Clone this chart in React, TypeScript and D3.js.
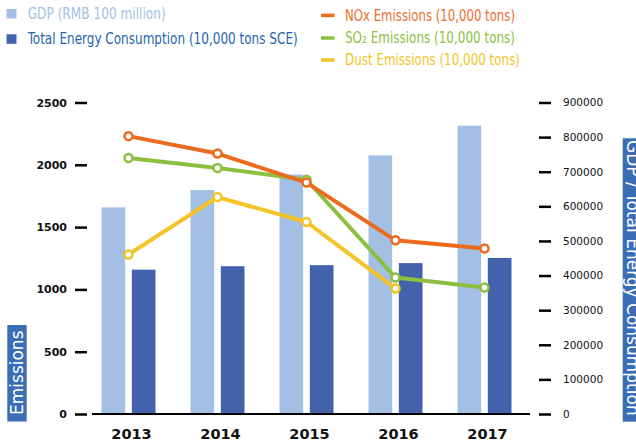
import React, { useEffect, useRef } from 'react';
import * as d3 from 'd3';

const years = ['2013', '2014', '2015', '2016', '2017'];
const gdp = [597000, 647000, 692000, 747000, 833000];
const energy = [417000, 427000, 430000, 436000, 451000];
const nox = [2230, 2090, 1857, 1394, 1328];
const so2 = [2054, 1974, 1880, 1095, 1015];
const dust = [1280, 1741, 1541, 1007, null];

const leftTicks = [0, 500, 1000, 1500, 2000, 2500];
const rightTicks = [0, 100000, 200000, 300000, 400000, 500000, 600000, 700000, 800000, 900000];

const W = 636;
const H = 445;
const font = '"DejaVu Sans", Verdana, sans-serif';
const legendFont = '"DejaVu Sans Condensed", "DejaVu Sans", sans-serif';

function App() {
  const ref = useRef<SVGSVGElement>(null);

  useEffect(() => {
    const svg = d3.select(ref.current);
    svg.selectAll('*').remove();

    const x = d3.scaleBand().domain(years).range([84, 529]).padding(0);
    const inner = d3.scaleBand().domain(['gdp', 'energy']).range([-27, 27]).paddingInner(0.22);
    const yLeft = d3.scaleLinear().domain([0, 2500]).range([414, 102.5]);
    const yRight = d3.scaleLinear().domain([0, 900000]).range([414, 102.5]);
    const cx = (y: string) => (x(y) as number) + x.bandwidth() / 2;

    // bars
    const bars = [
      { key: 'gdp', values: gdp, color: '#a3bfe3' },
      { key: 'energy', values: energy, color: '#4263ab' }
    ];
    bars.forEach(b => {
      svg
        .append('g')
        .selectAll('rect')
        .data(b.values)
        .enter()
        .append('rect')
        .attr('x', (_, i) => cx(years[i]) + (inner(b.key) as number))
        .attr('width', inner.bandwidth())
        .attr('y', d => yRight(d))
        .attr('height', d => yRight(0) - yRight(d))
        .style('fill', b.color);
    });

    // x axis line
    svg
      .append('line')
      .attr('x1', 92)
      .attr('x2', 530)
      .attr('y1', yLeft(0))
      .attr('y2', yLeft(0))
      .style('stroke', '#000')
      .style('stroke-width', 2);

    // year labels
    svg
      .append('g')
      .selectAll('text')
      .data(years)
      .enter()
      .append('text')
      .attr('x', d => cx(d) + 3)
      .attr('y', 439)
      .attr('text-anchor', 'middle')
      .style('font-family', font)
      .style('font-weight', 'bold')
      .style('font-size', '14.5px')
      .style('fill', '#111')
      .text(d => d);

    // left axis
    const la = svg
      .append('g')
      .attr('transform', 'translate(87,0)')
      .call(d3.axisLeft(yLeft).tickValues(leftTicks).tickSize(12).tickPadding(8).tickFormat(d3.format('d')));
    la.select('.domain').remove();
    la.selectAll('line').style('stroke', '#000').style('stroke-width', 2.5);
    la.selectAll('text')
      .style('font-family', font)
      .style('font-weight', 'bold')
      .style('font-size', '11px')
      .style('fill', '#111');

    // right axis
    const ra = svg
      .append('g')
      .attr('transform', 'translate(539,0)')
      .call(d3.axisRight(yRight).tickValues(rightTicks).tickSize(12).tickPadding(12).tickFormat(d3.format('d')));
    ra.select('.domain').remove();
    ra.selectAll('line').style('stroke', '#000').style('stroke-width', 2.5);
    ra.selectAll('text')
      .style('font-family', font)
      .style('font-size', '10.5px')
      .style('fill', '#111');

    // emission lines
    const series = [
      { values: so2, color: '#8cbf3f' },
      { values: dust, color: '#f5c325' },
      { values: nox, color: '#ec6a1e' }
    ];
    const lineGen = d3
      .line<number | null>()
      .defined(d => d != null)
      .x((_, i) => cx(years[i]))
      .y(d => yLeft(d as number));
    series.forEach(s => {
      const g = svg.append('g');
      g.append('path')
        .attr('d', lineGen(s.values))
        .style('fill', 'none')
        .style('stroke', s.color)
        .style('stroke-width', 4)
        .style('stroke-linejoin', 'round');
      g.selectAll('circle')
        .data(s.values.map((v, i) => ({ v, i })).filter(d => d.v != null))
        .enter()
        .append('circle')
        .attr('cx', d => cx(years[d.i]))
        .attr('cy', d => yLeft(d.v as number))
        .attr('r', 4)
        .style('fill', '#fff')
        .style('stroke', s.color)
        .style('stroke-width', 2.5);
    });

    // legend
    const legend = [
      { label: 'GDP (RMB 100 million)', swatch: 'rect', color: '#a3bfe3', text: '#a3bfe3', x: 27.7, y: 19, len: 138 },
      { label: 'Total Energy Consumption (10,000 tons SCE)', swatch: 'rect', color: '#4263ab', text: '#1f63b0', x: 27.7, y: 44.3, len: 270 },
      { label: 'NOx Emissions (10,000 tons)', swatch: 'line', color: '#ec6a1e', text: '#ef6b2d', x: 345, y: 20.7, len: 170 },
      { label: 'SO\u2082 Emissions (10,000 tons)', swatch: 'line', color: '#8cbf3f', text: '#8cbf3f', x: 345, y: 43.3, len: 170 },
      { label: 'Dust Emissions (10,000 tons)', swatch: 'line', color: '#f5c325', text: '#f5c325', x: 345, y: 65.3, len: 175 }
    ];
    legend.forEach(l => {
      if (l.swatch === 'rect') {
        svg
          .append('rect')
          .attr('x', 6.5)
          .attr('y', l.y - 10)
          .attr('width', 10)
          .attr('height', 9.5)
          .style('fill', l.color);
      } else {
        svg
          .append('line')
          .attr('x1', 321)
          .attr('x2', 334.5)
          .attr('y1', l.y - 5.3)
          .attr('y2', l.y - 5.3)
          .style('stroke', l.color)
          .style('stroke-width', 3.5);
      }
      svg
        .append('text')
        .attr('x', l.x)
        .attr('y', l.y)
        .attr('textLength', l.len)
        .attr('lengthAdjust', 'spacingAndGlyphs')
        .style('font-family', legendFont)
        .style('font-size', '15px')
        .style('fill', l.text)
        .text(l.label);
    });

    // axis titles
    svg
      .append('rect')
      .attr('x', 7.3)
      .attr('y', 325)
      .attr('width', 19.4)
      .attr('height', 96.5)
      .style('fill', '#3b6db4');
    svg
      .append('text')
      .attr('transform', 'translate(23,415) rotate(-90)')
      .style('font-family', font)
      .style('font-size', '17px')
      .style('fill', '#fff')
      .text('Emissions');

    svg
      .append('rect')
      .attr('x', 622.7)
      .attr('y', 138.3)
      .attr('width', 20)
      .attr('height', 283.4)
      .style('fill', '#3b6db4');
    svg
      .append('text')
      .attr('transform', 'translate(626.5,140) rotate(90)')
      .style('font-family', font)
      .style('font-size', '17px')
      .style('fill', '#fff')
      .text('GDP / Total Energy Consumption');
  }, []);

  return (
    <div style={{ position: 'absolute', left: 0, top: 0 }}>
      <svg ref={ref} width={W} height={H} style={{ display: 'block', background: '#fff' }} />
    </div>
  );
}

export default App;
